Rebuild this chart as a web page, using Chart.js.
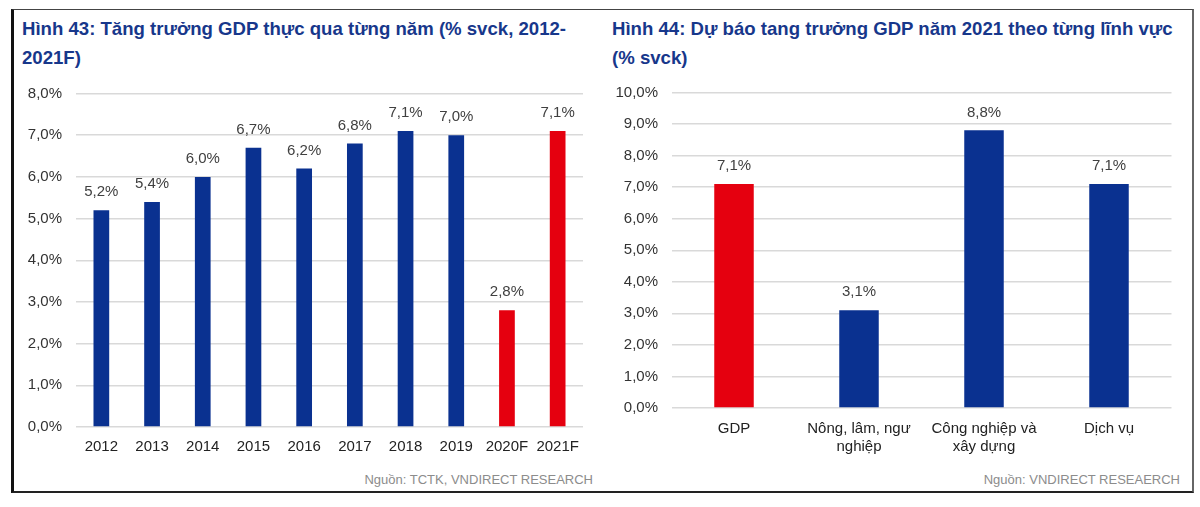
<!DOCTYPE html>
<html>
<head>
<meta charset="utf-8">
<script src="https://cdn.jsdelivr.net/npm/chart.js@4.4.1/dist/chart.umd.min.js"></script>
<style>
  body { margin: 0; background: #fff; width: 1200px; height: 507px; position: relative; overflow: hidden; font-family: "Liberation Sans", Arial, sans-serif; }
  .frame { position: absolute; left: 11px; top: 9px; width: 1178px; height: 481px; border-top: 1px solid #444; border-left: 3px solid #111; border-bottom: 2px solid #222; border-right: 2px solid #666; }
  .title { position: absolute; top: 14px; color: #17378b; font-weight: bold; font-size: 18.6px; line-height: 29px; }
  .source { position: absolute; top: 472px; color: #8c8c8c; font-size: 13px; text-align: right; }
  canvas { position: absolute; }
</style>
</head>
<body>
<div class="frame"></div>
<div class="title" style="left:22px;width:580px;">Hình 43: Tăng trưởng GDP thực qua từng năm (% svck, 2012-<br>2021F)</div>
<div class="title" style="left:612px;width:580px;">Hình 44: Dự báo tang trưởng GDP năm 2021 theo từng lĩnh vực<br>(% svck)</div>
<div class="source" style="right:607px;">Nguồn: TCTK, VNDIRECT RESEARCH</div>
<div class="source" style="right:20px;">Nguồn: VNDIRECT RESEAERCH</div>
<canvas id="gdpYears" style="left:14px;top:70px;"></canvas>
<canvas id="gdpSectors" style="left:605px;top:70px;"></canvas>
<script>
const BLUE = '#0a3190';
const RED = '#e5000f';

const years = ['2012', '2013', '2014', '2015', '2016', '2017', '2018', '2019', '2020F', '2021F'];
const yearGrowth = [5.2, 5.4, 6.0, 6.7, 6.2, 6.8, 7.1, 7.0, 2.8, 7.1];
const yearForecast = [false, false, false, false, false, false, false, false, true, true];

const sectors = ['GDP', ['Nông, lâm, ngư', 'nghiệp'], ['Công nghiệp và', 'xây dựng'], 'Dịch vụ'];
const sectorGrowth = [7.1, 3.1, 8.8, 7.1];
const sectorIsTotal = [true, false, false, false];

const FONT = { family: '"Liberation Sans", Arial, sans-serif', size: 15 };
const pct = v => v.toFixed(1).replace('.', ',') + '%';

// values over bars, placed from the bar elements
const barLabels = {
  id: 'barLabels',
  afterDatasetsDraw(chart) {
    const ctx = chart.ctx;
    const meta = chart.getDatasetMeta(0);
    const data = chart.data.datasets[0].data;
    ctx.save();
    ctx.font = FONT.size + 'px ' + FONT.family;
    ctx.fillStyle = '#404040';
    ctx.textAlign = 'center';
    ctx.textBaseline = 'middle';
    meta.data.forEach((bar, i) => {
      ctx.fillText(pct(data[i]), bar.x, bar.y - 18);
    });
    ctx.restore();
  }
};

function makeChart(id, w, h, labels, values, colors, opt) {
  const cv = document.getElementById(id);
  cv.width = w; cv.height = h;
  cv.style.width = w + 'px'; cv.style.height = h + 'px';
  return new Chart(cv, {
    type: 'bar',
    data: {
      labels: labels,
      datasets: [{ data: values, backgroundColor: colors, borderWidth: 0,
                   barPercentage: opt.barPct, categoryPercentage: 1 }]
    },
    plugins: [barLabels],
    options: {
      responsive: false,
      animation: false,
      devicePixelRatio: 1,
      layout: { padding: { top: opt.top, right: opt.right, left: 0, bottom: 0 } },
      plugins: { legend: { display: false }, tooltip: { enabled: false } },
      scales: {
        x: {
          grid: { display: false, drawTicks: false },
          border: { display: false },
          ticks: { color: '#222', font: FONT, padding: opt.xPad, maxRotation: 0, autoSkip: false },
          afterFit: s => { s.height = opt.xH; }
        },
        y: {
          min: 0, max: opt.max,
          grid: { color: '#d9d9d9', lineWidth: 1.5, drawTicks: false },
          border: { display: false },
          ticks: { stepSize: 1, color: '#333', font: FONT, padding: opt.yPad, callback: v => pct(v) },
          afterFit: s => { s.width = opt.yW; }
        }
      }
    }
  });
}

makeChart('gdpYears', 586, 405, years, yearGrowth,
  yearForecast.map(f => f ? RED : BLUE),
  { barPct: 0.31, top: 23.5, right: 17, xH: 48, yW: 62, xPad: 11, yPad: 14, max: 8 });

makeChart('gdpSectors', 586, 405, sectors, sectorGrowth,
  sectorIsTotal.map(t => t ? RED : BLUE),
  { barPct: 0.316, top: 21, right: 19.5, xH: 67, yW: 66.5, xPad: 12, yPad: 13.5, max: 10 });
</script>
</body>
</html>
